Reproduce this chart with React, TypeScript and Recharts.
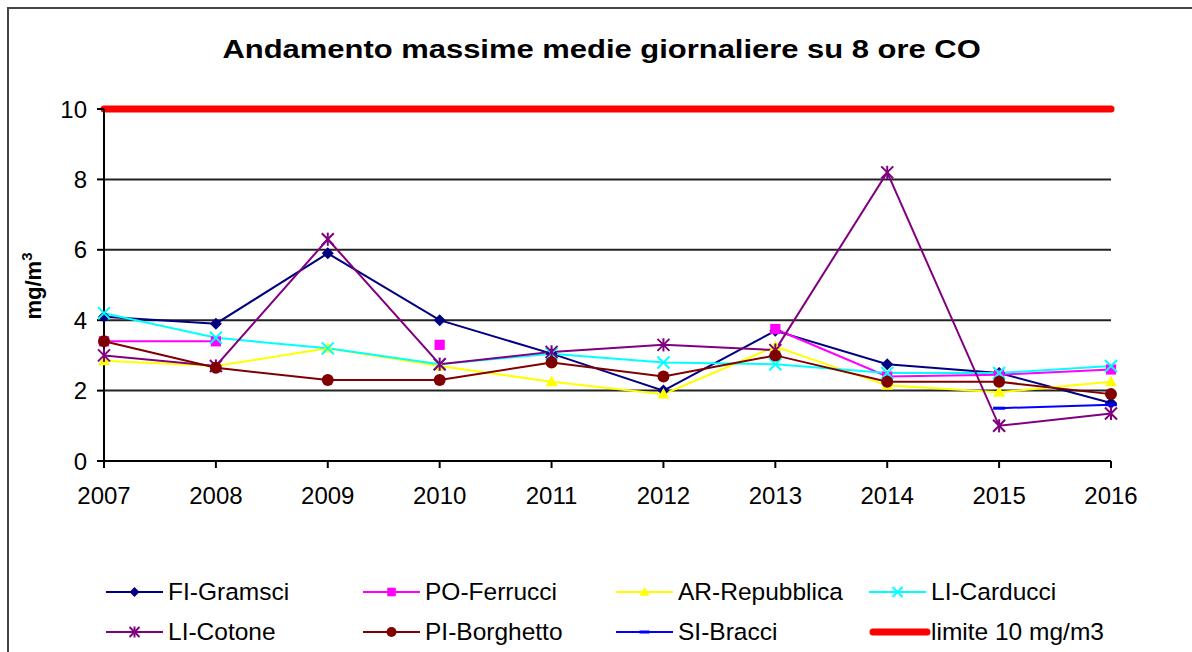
import React from "react";
import { LineChart, Line, XAxis, YAxis, CartesianGrid } from "recharts";

const years = ["2007", "2008", "2009", "2010", "2011", "2012", "2013", "2014", "2015", "2016"];
const yTicks = [0, 2, 4, 6, 8, 10];

const fiGramsci = [4.1, 3.9, 5.9, 4.0, 3.05, 2.0, 3.7, 2.75, 2.5, 1.65];
const poFerrucci = [3.4, 3.4, null, 3.3, null, null, 3.75, 2.4, 2.45, 2.6];
const arRepubblica = [2.85, 2.7, 3.2, 2.7, 2.25, 1.9, 3.25, 2.15, 1.95, 2.25];
const liCarducci = [4.2, 3.5, 3.2, 2.75, 3.05, 2.8, 2.75, 2.5, 2.5, 2.7];
const liCotone = [3.0, 2.7, 6.3, 2.75, 3.1, 3.3, 3.15, 8.2, 1.0, 1.35];
const piBorghetto = [3.4, 2.65, 2.3, 2.3, 2.8, 2.4, 3.0, 2.25, 2.25, 1.9];
const siBracci = [null, null, null, null, null, null, null, null, 1.5, 1.6];
const limite = [10, 10, 10, 10, 10, 10, 10, 10, 10, 10];

type Shape = "diamond" | "square" | "triangle" | "x" | "star" | "circle" | "dash" | "none";

const series: { key: string; name: string; color: string; shape: Shape; values: (number | null)[] }[] = [
  { key: "fi", name: "FI-Gramsci", color: "#000080", shape: "diamond", values: fiGramsci },
  { key: "po", name: "PO-Ferrucci", color: "#FF00FF", shape: "square", values: poFerrucci },
  { key: "ar", name: "AR-Repubblica", color: "#FFFF00", shape: "triangle", values: arRepubblica },
  { key: "lic", name: "LI-Carducci", color: "#00FFFF", shape: "x", values: liCarducci },
  { key: "lico", name: "LI-Cotone", color: "#800080", shape: "star", values: liCotone },
  { key: "pi", name: "PI-Borghetto", color: "#800000", shape: "circle", values: piBorghetto },
  { key: "si", name: "SI-Bracci", color: "#0000FF", shape: "dash", values: siBracci },
  { key: "lim", name: "limite 10 mg/m3", color: "#FF0000", shape: "none", values: limite },
];

const data = years.map((y, i) => {
  const row: any = { year: y };
  series.forEach((s) => (row[s.key] = s.values[i]));
  return row;
});

function marker(shape: Shape, color: string, cx: number, cy: number, s: number) {
  switch (shape) {
    case "diamond":
      return <polygon points={`${cx},${cy - s} ${cx + s},${cy} ${cx},${cy + s} ${cx - s},${cy}`} fill={color} />;
    case "square":
      return <rect x={cx - s * 0.85} y={cy - s * 0.85} width={s * 1.7} height={s * 1.7} fill={color} />;
    case "triangle":
      return <polygon points={`${cx},${cy - s} ${cx + s},${cy + s * 0.75} ${cx - s},${cy + s * 0.75}`} fill={color} />;
    case "x":
      return (
        <g stroke={color} strokeWidth={2}>
          <line x1={cx - s} y1={cy - s} x2={cx + s} y2={cy + s} />
          <line x1={cx - s} y1={cy + s} x2={cx + s} y2={cy - s} />
        </g>
      );
    case "star":
      return (
        <g stroke={color} strokeWidth={2}>
          <line x1={cx - s} y1={cy - s} x2={cx + s} y2={cy + s} />
          <line x1={cx - s} y1={cy + s} x2={cx + s} y2={cy - s} />
          <line x1={cx} y1={cy - s * 1.1} x2={cx} y2={cy + s * 1.1} />
        </g>
      );
    case "circle":
      return <circle cx={cx} cy={cy} r={s} fill={color} />;
    case "dash":
      return <rect x={cx - s} y={cy - 1.5} width={s * 2} height={3} fill={color} />;
    default:
      return null;
  }
}

const makeDot = (shape: Shape, color: string) => (props: any) => {
  const { cx, cy, index } = props;
  if (cx == null || cy == null || isNaN(cy) || props.value == null) return <g key={`d-${index}`} />;
  return <g key={`d-${index}`}>{marker(shape, color, cx, cy, 6)}</g>;
};

const legendCols = [106, 363, 616, 869];
const legendRows = [592, 632];

function LegendItem({ s, i }: { s: (typeof series)[number]; i: number }) {
  const left = legendCols[i % 4];
  const top = legendRows[Math.floor(i / 4)];
  const isLimit = s.shape === "none";
  return (
    <div style={{ position: "absolute", left, top: top - 14, height: 28, display: "flex", alignItems: "center" }}>
      <svg width={isLimit ? 62 : 58} height={20} style={{ display: "block" }}>
        {isLimit ? (
          <line x1={4} y1={10} x2={58} y2={10} stroke={s.color} strokeWidth={7} strokeLinecap="round" />
        ) : (
          <>
            <line x1={0} y1={10} x2={57} y2={10} stroke={s.color} strokeWidth={2} />
            {marker(s.shape, s.color, 28.5, 10, 5)}
          </>
        )}
      </svg>
      <span style={{ marginLeft: isLimit ? 0 : 4, fontSize: 24.5, color: "#000", fontFamily: "'Liberation Sans', Arial, sans-serif", whiteSpace: "nowrap" }}>
        {s.name}
      </span>
    </div>
  );
}

const YLabel = () => (
  <text
    x={41}
    y={286}
    transform="rotate(-90, 41, 286)"
    textAnchor="middle"
    fontSize={22}
    fontWeight="bold"
    fill="#000"
    fontFamily="'Liberation Sans', Arial, sans-serif"
  >
    mg/m<tspan dy={-9} fontSize={15}>3</tspan>
  </text>
);

export default function App() {
  return (
    <div style={{ position: "absolute", left: 0, top: 0, width: 1192, height: 652, background: "#fff", overflow: "hidden", fontFamily: "'Liberation Sans', Arial, sans-serif" }}>
      <div style={{ position: "absolute", left: 7, top: 7, width: 1200, height: 700, borderLeft: "2px solid #444", borderTop: "2px solid #444" }} />
      <div style={{ position: "absolute", left: 0, top: 34, width: 1204, textAlign: "center", fontSize: 26, fontWeight: "bold", color: "#000" }}>
        <span style={{ display: "inline-block", transform: "scaleX(1.19)" }}>Andamento massime medie giornaliere su 8 ore CO</span>
      </div>
      <LineChart width={1192} height={652} data={data} margin={{ top: 109, right: 81, bottom: 151, left: 24 }} style={{ position: "absolute", left: 0, top: 0 }}>
        <CartesianGrid vertical={false} stroke="#222" strokeWidth={2} />
        <XAxis
          dataKey="year"
          scale="point"
          padding={{ left: 0, right: 0 }}
          height={40}
          tickSize={7}
          tickMargin={19}
          axisLine={{ stroke: "#000", strokeWidth: 2 }}
          tickLine={{ stroke: "#000", strokeWidth: 2 }}
          tick={{ fill: "#000", fontSize: 24 }}
          interval={0}
        />
        <YAxis
          width={80}
          domain={[0, 10]}
          ticks={yTicks}
          tickSize={7}
          tickMargin={10}
          axisLine={{ stroke: "#000", strokeWidth: 2 }}
          tickLine={{ stroke: "#000", strokeWidth: 2 }}
          tick={{ fill: "#000", fontSize: 24 }}
          label={<YLabel />}
        />
        {series.map((s) =>
          s.shape === "none" ? (
            <Line key={s.key} dataKey={s.key} stroke={s.color} strokeWidth={7} strokeLinecap="round" dot={false} activeDot={false} isAnimationActive={false} />
          ) : (
            <Line
              key={s.key}
              dataKey={s.key}
              stroke={s.color}
              strokeWidth={2}
              dot={makeDot(s.shape, s.color)}
              activeDot={false}
              connectNulls={false}
              isAnimationActive={false}
            />
          )
        )}
      </LineChart>
      {series.map((s, i) => (
        <LegendItem key={s.key} s={s} i={i} />
      ))}
    </div>
  );
}
